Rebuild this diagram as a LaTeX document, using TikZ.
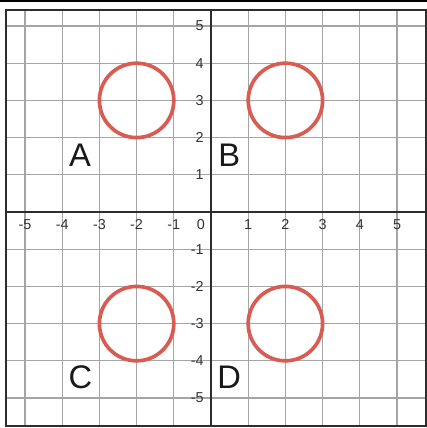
\documentclass[tikz,border=0pt]{standalone}
\usepackage{fontspec}
\setmainfont{Liberation Sans}
\definecolor{ringred}{RGB}{216,92,82}
\definecolor{gridgray}{RGB}{165,165,165}
\definecolor{axisgray}{RGB}{45,45,45}
\begin{document}
\begin{tikzpicture}[x=1cm,y=1cm,
  gridline/.style={draw=gridgray, line width=0.9pt},
  axisline/.style={draw=axisgray, line width=1.4pt},
  frameline/.style={draw=axisgray, line width=2.2pt},
  ring/.style={draw=ringred, line width=2.8pt},
  ticklbl/.style={font=\fontsize{11}{13}\selectfont, text=black!80, inner sep=0pt},
  quadlbl/.style={font=\fontsize{25}{30}\selectfont, text=black!90, inner sep=0pt}]
\useasboundingbox (-5.672,-5.806) rectangle (5.806,5.699);
\fill[white] (-5.672,-5.806) rectangle (5.806,5.699);
\fill[black] (-5.672,5.645) rectangle (5.806,5.699);
% grid
\foreach \i in {-5,...,5}{
  \draw[gridline] (\i,-5.753) -- (\i,5.43);
  \draw[gridline] (-5.511,\i) -- (5.78,\i);
}
% axes
\draw[axisline] (-5.511,0) -- (5.78,0);
\draw[axisline] (0,-5.753) -- (0,5.43);
% frame
\draw[frameline] (-5.511,-5.753) rectangle (5.78,5.43);
% tick labels
\foreach \i in {-5,-4,-3,-2,-1,1,2,3,4,5}{
  \node[ticklbl] (xt\i) at (\i,-0.34) {\i};
  \node[ticklbl,anchor=east] (yt\i) at (-0.19,\i) {\i};
}
\node[ticklbl] (origin) at (-0.27,-0.34) {0};
% circles
\draw[ring] (-2,3) circle (1);
\draw[ring] (2,3) circle (1);
\draw[ring] (-2,-3) circle (1);
\draw[ring] (2,-3) circle (1);
% quadrant labels
\node[quadlbl] (A) at (-3.52,1.53) {A};
\node[quadlbl] (B) at (0.49,1.53) {B};
\node[quadlbl] (C) at (-3.51,-4.43) {C};
\node[quadlbl] (D) at (0.49,-4.43) {D};
\end{tikzpicture}
\end{document}
